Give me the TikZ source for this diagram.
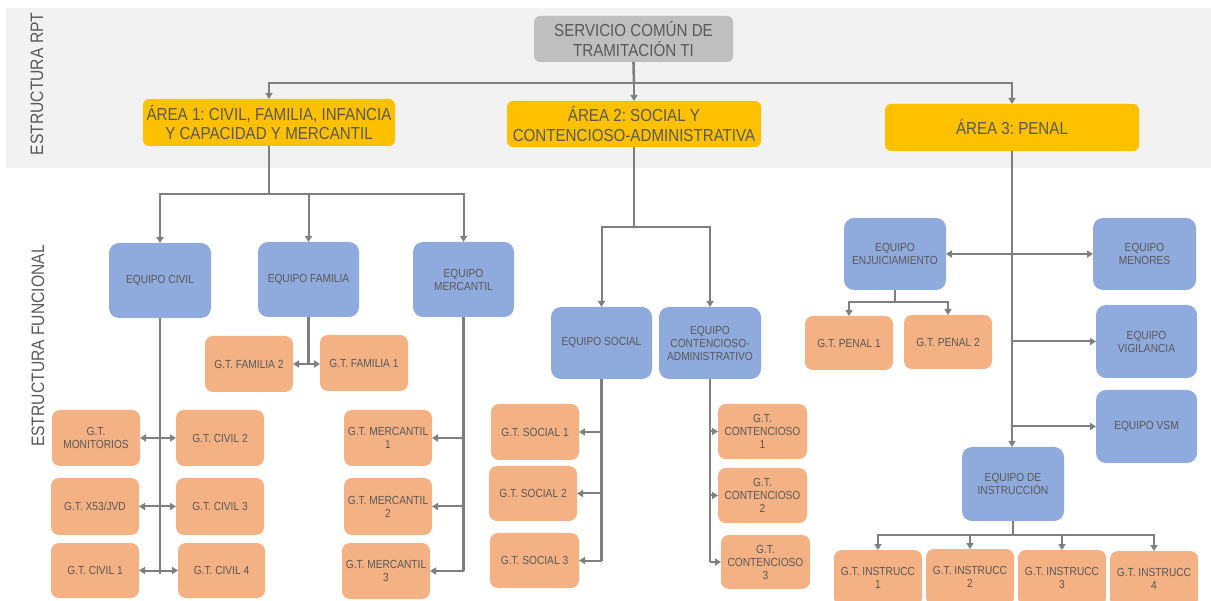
\documentclass[tikz,border=0pt]{standalone}
\usepackage{fontspec}
\setmainfont{Liberation Sans}[FakeStretch=0.87]
\usetikzlibrary{arrows.meta}
\definecolor{txt}{HTML}{595959}
\definecolor{linegray}{HTML}{7F7F7F}
\definecolor{eqblue}{HTML}{8FAADC}
\definecolor{gtorange}{HTML}{F4B183}
\definecolor{areayellow}{HTML}{FFC000}
\definecolor{topgray}{HTML}{BFBFBF}
\definecolor{bandgray}{HTML}{F2F2F2}
\tikzset{
  box/.style={rounded corners=8pt, inner sep=0pt, outer sep=0pt, align=center, text=txt, font=\fontsize{11.7}{13}\selectfont\frenchspacing},
  bluebox/.style={box, fill=eqblue, rounded corners=10pt},
  orangebox/.style={box, fill=gtorange},
  areabox/.style={box, fill=areayellow, rounded corners=6pt, font=\fontsize{17.4}{19.5}\selectfont\frenchspacing},
  topbox/.style={areabox, fill=topgray},
  conn/.style={draw=linegray, line width=2pt},
  trunk/.style={conn, line width=2.6pt},
  arr/.style={conn, -{Triangle[length=6pt,width=7pt]}},
  darr/.style={conn, {Triangle[length=6pt,width=7pt]}-{Triangle[length=6pt,width=7pt]}},
  sidelabel/.style={rotate=90, text=txt, font=\fontsize{18}{18}\selectfont},
}
\newcommand\bx[7]{\node[#2, minimum width={(#5-#3)*1pt}, minimum height={(#6-#4)*1pt}] (#1) at ({(#3+#5)/2},{(#4+#6)/2}) {#7};}
\begin{document}
\begin{tikzpicture}[x=1pt,y=-1pt]
\useasboundingbox (0,0) rectangle (1211,601);
\fill[bandgray] (6,8) rectangle (1211,168);
\node[sidelabel] (lrpt) at (37,84) {ESTRUCTURA RPT};
\node[sidelabel] (lfun) at (38,346) {ESTRUCTURA FUNCIONAL};
% top
\bx{serv}{topbox}{534}{16}{733}{62}{SERVICIO COMÚN DE\\TRAMITACIÓN TI}
\bx{a1}{areabox}{143}{99}{395}{146}{ÁREA 1: CIVIL, FAMILIA, INFANCIA\\Y CAPACIDAD Y MERCANTIL}
\bx{a2}{areabox}{507}{101}{761}{147}{ÁREA 2: SOCIAL Y\\CONTENCIOSO-ADMINISTRATIVA}
\bx{a3}{areabox}{885}{104}{1139}{151}{ÁREA 3: PENAL}
% area 1
\bx{ecivil}{bluebox}{109}{243}{211}{318}{EQUIPO CIVIL}
\bx{efam}{bluebox}{258}{242}{359}{317}{EQUIPO FAMILIA}
\bx{emerc}{bluebox}{413}{242}{514}{317}{EQUIPO\\MERCANTIL}
\bx{fam2}{orangebox}{205}{336}{293}{392}{G.T. FAMILIA 2}
\bx{fam1}{orangebox}{320}{335}{408}{391}{G.T. FAMILIA 1}
\bx{mon}{orangebox}{52}{410}{140}{466}{G.T.\\MONITORIOS}
\bx{civ2}{orangebox}{176}{410}{264}{466}{G.T. CIVIL 2}
\bx{x53}{orangebox}{51}{478}{139}{535}{G.T. X53/JVD}
\bx{civ3}{orangebox}{176}{478}{264}{535}{G.T. CIVIL 3}
\bx{civ1}{orangebox}{51}{543}{139}{598}{G.T. CIVIL 1}
\bx{civ4}{orangebox}{178}{543}{265}{598}{G.T. CIVIL 4}
\bx{merc1}{orangebox}{344}{410}{432}{466}{G.T. MERCANTIL\\1}
\bx{merc2}{orangebox}{344}{478}{432}{535}{G.T. MERCANTIL\\2}
\bx{merc3}{orangebox}{342}{543}{430}{599}{G.T. MERCANTIL\\3}
% area 2
\bx{esocial}{bluebox}{551}{307}{652}{379}{EQUIPO SOCIAL}
\bx{econt}{bluebox}{659}{307}{761}{379}{EQUIPO\\CONTENCIOSO-\\ADMINISTRATIVO}
\bx{soc1}{orangebox}{491}{404}{579}{460}{G.T. SOCIAL 1}
\bx{soc2}{orangebox}{489}{466}{577}{521}{G.T. SOCIAL 2}
\bx{soc3}{orangebox}{490}{533}{579}{588}{G.T. SOCIAL 3}
\bx{cont1}{orangebox}{718}{404}{807}{459}{G.T.\\CONTENCIOSO\\1}
\bx{cont2}{orangebox}{718}{468}{807}{523}{G.T.\\CONTENCIOSO\\2}
\bx{cont3}{orangebox}{721}{535}{810}{589}{G.T.\\CONTENCIOSO\\3}
% area 3
\bx{enj}{bluebox}{844}{218}{946}{290}{EQUIPO\\ENJUICIAMIENTO}
\bx{men}{bluebox}{1093}{218}{1196}{290}{EQUIPO\\MENORES}
\bx{vig}{bluebox}{1096}{305}{1197}{378}{EQUIPO\\VIGILANCIA}
\bx{vsm}{bluebox}{1096}{390}{1197}{463}{EQUIPO VSM}
\bx{pen1}{orangebox}{805}{316}{893}{370}{G.T. PENAL 1}
\bx{pen2}{orangebox}{904}{315}{992}{369}{G.T. PENAL 2}
\bx{einst}{bluebox}{962}{447}{1064}{521}{EQUIPO DE\\INSTRUCCIÓN}
\bx{i1}{orangebox}{834}{550}{922}{606}{G.T. INSTRUCC\\1}
\bx{i2}{orangebox}{926}{549}{1014}{605}{G.T. INSTRUCC\\2}
\bx{i3}{orangebox}{1018}{550}{1106}{606}{G.T. INSTRUCC\\3}
\bx{i4}{orangebox}{1110}{551}{1198}{607}{G.T. INSTRUCC\\4}
% connectors top
\coordinate (j0) at (634,83);
\draw[trunk] (serv.south) -- (j0);
\draw[arr] (j0) -| (a1.north);
\draw[arr] (j0) -- (a2.north);
\draw[arr] (j0) -| (a3.north);
% area 1
\coordinate (j1) at (269,194);
\draw[trunk] (a1.south) -- (j1);
\draw[arr] (j1) -| (ecivil.north);
\draw[arr] (j1) -| (efam.north);
\draw[arr] (j1) -| (emerc.north);
\draw[trunk] (ecivil.south) -- ++(0,256);
\draw[darr] (mon.east) -- (civ2.west);
\draw[darr] (x53.east) -- (civ3.west);
\draw[darr] (civ1.east) -- (civ4.west);
\draw[trunk] (efam.south) -- (efam.south |- fam2.east);
\draw[darr] (fam2.east) -- (fam2.east -| fam1.west);
\draw[trunk] (emerc.south) -- (emerc.south |- merc3.east);
\draw[arr] (emerc.south |- merc1.east) -- (merc1.east);
\draw[arr] (emerc.south |- merc2.east) -- (merc2.east);
\draw[arr] (emerc.south |- merc3.east) -- (merc3.east);
% area 2
\coordinate (j2) at (634,227);
\draw[trunk] (a2.south) -- (j2);
\draw[arr] (j2) -| (esocial.north);
\draw[arr] (j2) -| (econt.north);
\draw[trunk] (esocial.south) -- (esocial.south |- soc3.east);
\draw[arr] (esocial.south |- soc1.east) -- (soc1.east);
\draw[arr] (esocial.south |- soc2.east) -- (soc2.east);
\draw[arr] (esocial.south |- soc3.east) -- (soc3.east);
\draw[trunk] (econt.south) -- (econt.south |- cont3.west);
\draw[arr] (econt.south |- cont1.west) -- (cont1.west);
\draw[arr] (econt.south |- cont2.west) -- (cont2.west);
\draw[arr] (econt.south |- cont3.west) -- (cont3.west);
% area 3
\draw[trunk, -{Triangle[length=6pt,width=7pt]}] (a3.south) -- (a3.south |- einst.north);
\draw[darr] (enj.east) -- (men.west);
\draw[arr] (a3.south |- vig.west) -- (vig.west);
\draw[arr] (a3.south |- vsm.west) -- (vsm.west);
\coordinate (j3) at (895,302);
\draw[trunk] (enj.south) -- (j3);
\draw[arr] (j3) -| (pen1.north);
\draw[arr] (j3) -| (pen2.north);
\coordinate (j4) at (1013,535);
\draw[trunk] (einst.south) -- (j4);
\draw[arr] (j4) -| (i1.north);
\draw[arr] (j4) -| (i2.north);
\draw[arr] (j4) -| (i3.north);
\draw[arr] (j4) -| (i4.north);
\end{tikzpicture}
\end{document}
